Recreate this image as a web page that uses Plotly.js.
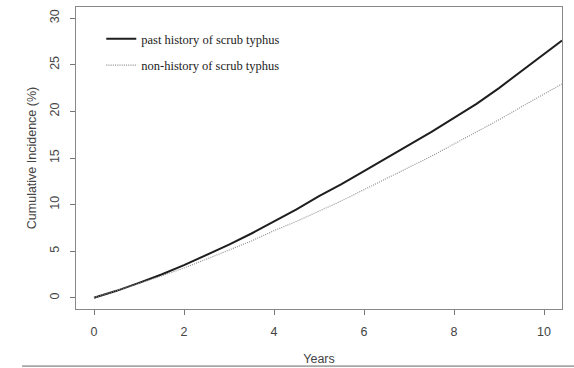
<!DOCTYPE html>
<html>
<head>
<meta charset="utf-8">
<script src="https://cdn.plot.ly/plotly-3.0.1.min.js"></script>
<style>html,body{margin:0;padding:0;background:#fff;}#chart{width:574px;height:368px;}</style>
</head>
<body>
<div id="chart"></div>
<script>
const years = [0,0.5,1,1.5,2,2.5,3,3.5,4,4.5,5,5.5,6,6.5,7,7.5,8,8.5,9,9.5,10,10.4];
const pastHistory = [0,0.75,1.6,2.5,3.5,4.6,5.7,6.9,8.2,9.5,10.9,12.2,13.6,15.0,16.4,17.8,19.3,20.8,22.5,24.3,26.2,27.6];
const nonHistory = [0,0.75,1.55,2.35,3.2,4.15,5.1,6.1,7.2,8.2,9.3,10.4,11.6,12.8,14.0,15.2,16.5,17.8,19.1,20.5,21.9,22.95];
const seriesNames = ["past history of scrub typhus","non-history of scrub typhus"];
const xTicks = [0,2,4,6,8,10];
const yTicks = [0,5,10,15,20,25,30];

const traces = [
  {x: years, y: pastHistory, name: seriesNames[0], mode: "lines", legendgroup: "a",
   line: {color: "#1e1e1e", width: 2}},
  {x: years, y: nonHistory, name: seriesNames[1], mode: "lines", legendgroup: "b",
   line: {color: "#8a8a8a", width: 1.1, dash: "1px,1.2px"}}
];

const axisFont = {family: "Liberation Sans, Arial, sans-serif", size: 12.5, color: "#444"};
const layout = {
  width: 574, height: 368,
  margin: {l: 76, r: 12, t: 7, b: 59},
  paper_bgcolor: "#fff", plot_bgcolor: "#fff",
  showlegend: true,
  legend: {x: 0.052, y: 0.943, xanchor: "left", yanchor: "top", tracegroupgap: 7,
    font: {family: "Liberation Serif, Times New Roman, serif", size: 12.5, color: "#222"},
    bgcolor: "rgba(0,0,0,0)"},
  xaxis: {range: [-0.4, 10.4], tickvals: xTicks, ticks: "outside", ticklen: 5, tickcolor: "#777",
    showgrid: false, zeroline: false, showline: true, mirror: true, linecolor: "#888", linewidth: 1,
    tickfont: axisFont, ticklabelstandoff: 6,
    title: {text: "Years", font: axisFont, standoff: 16}},
  yaxis: {range: [-1.2, 31.2], tickvals: yTicks, ticks: "outside", ticklen: 5, tickcolor: "#777",
    showgrid: false, zeroline: false, showline: true, mirror: true, linecolor: "#888", linewidth: 1,
    tickangle: -90, tickfont: axisFont, ticklabelstandoff: 6,
    title: {text: "Cumulative Incidence (%)", font: axisFont, standoff: 8}},
  shapes: [
    {type: "line", xref: "paper", yref: "paper", x0: -0.111, x1: 1.03, y0: -0.189, y1: -0.189,
     line: {color: "#666", width: 1}}
  ]
};
Plotly.newPlot("chart", traces, layout, {displayModeBar: false, staticPlot: true});
</script>
</body>
</html>
